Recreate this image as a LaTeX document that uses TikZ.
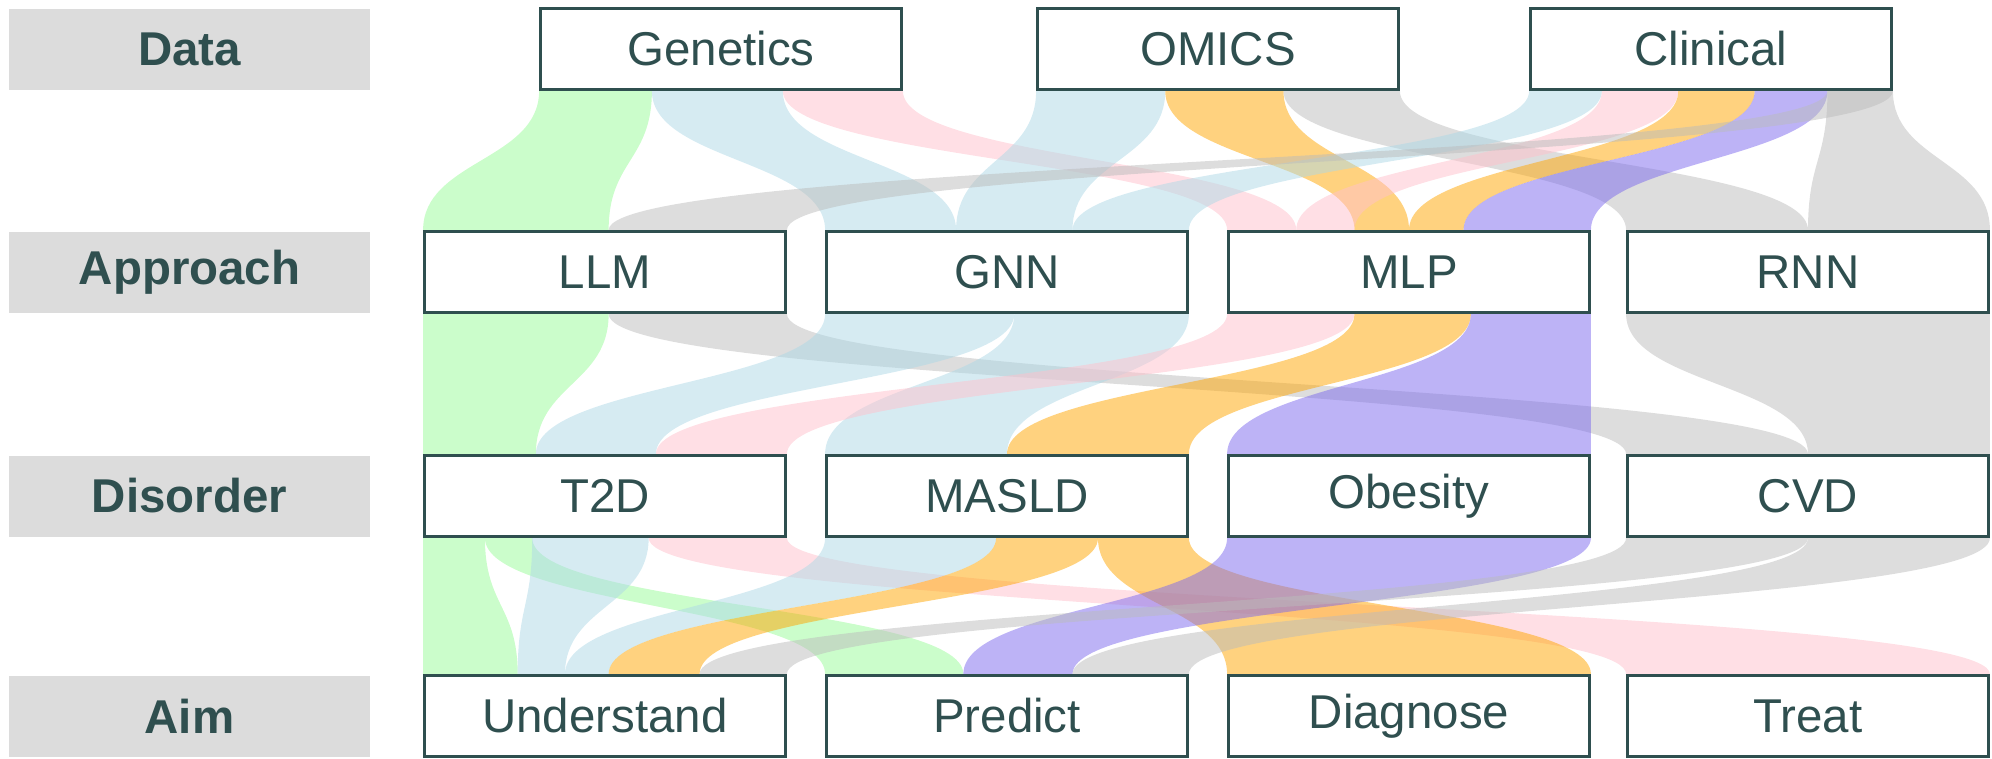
\documentclass[tikz,border=0pt]{standalone}
\usepackage{fontspec}
\setmainfont{Liberation Sans}
\usetikzlibrary{calc,backgrounds}

\definecolor{bordc}{HTML}{2F4F4F}
\definecolor{barc}{HTML}{DCDCDC}
\definecolor{rgreen}{HTML}{98FB98}
\definecolor{rblue}{HTML}{ADD8E6}
\definecolor{rpink}{HTML}{FFC0CB}
\definecolor{rorange}{HTML}{FFA500}
\definecolor{rpurple}{HTML}{7B68EE}
\definecolor{rgray}{HTML}{BBBBBB}

\tikzset{
	box/.style={draw=bordc, line width=0.8pt, fill=white, minimum width=3.61cm, minimum height=0.81cm, inner sep=0pt, text=bordc, font=\fontsize{13.5}{16}\selectfont},
	bar/.style={fill=barc, minimum width=3.61cm, minimum height=0.81cm, inner sep=0pt, text=bordc, font=\fontsize{13.5}{16}\selectfont\bfseries}
}

\newcommand{\ribbon}[7]{
	\path[fill=#1, fill opacity=0.5] let
		\p1 = ($(#2.south west)!#3!(#2.south east)$),
		\p2 = ($(#2.south west)!#4!(#2.south east)$),
		\p3 = ($(#5.north west)!#6!(#5.north east)$),
		\p4 = ($(#5.north west)!#7!(#5.north east)$),
		\p5 = ($(\p1)!0.5!(\p3)$)
	in (\p1) .. controls (\x1,\y5) and (\x3,\y5) .. (\p3) -- (\p4) .. controls (\x4,\y5) and (\x2,\y5) .. (\p2) -- cycle;
}

\begin{document}
\begin{tikzpicture}
\useasboundingbox (0,0) rectangle (19.92,7.58);

\pgfmathsetmacro{\rowA}{7.09}
\pgfmathsetmacro{\rowB}{4.86}
\pgfmathsetmacro{\rowC}{2.62}
\pgfmathsetmacro{\rowD}{0.42}
\pgfmathsetmacro{\colA}{6.05}
\pgfmathsetmacro{\colB}{10.07}
\pgfmathsetmacro{\colC}{14.09}
\pgfmathsetmacro{\colD}{18.08}

\node[bar] (hdata) at (1.895,\rowA) {Data};
\node[bar] (happr) at (1.895,\rowB) {Approach};
\node[bar] (hdis) at (1.895,\rowC) {Disorder};
\node[bar] (haim) at (1.895,\rowD) {Aim};

\node[box] (gen) at (7.21,\rowA) {Genetics};
\node[box] (omics) at (12.18,\rowA) {OMICS};
\node[box] (clin) at (17.11,\rowA) {Clinical};

\node[box] (llm) at (\colA,\rowB) {LLM};
\node[box] (gnn) at (\colB,\rowB) {GNN};
\node[box] (mlp) at (\colC,\rowB) {MLP};
\node[box] (rnn) at (\colD,\rowB) {RNN};

\node[box] (tdd) at (\colA,\rowC) {T2D};
\node[box] (masld) at (\colB,\rowC) {MASLD};
\node[box] (obes) at (\colC,\rowC) {Obesity};
\node[box] (cvd) at (\colD,\rowC) {CVD};

\node[box] (und) at (\colA,\rowD) {Understand};
\node[box] (pred) at (\colB,\rowD) {Predict};
\node[box] (diag) at (\colC,\rowD) {Diagnose};
\node[box] (treat) at (\colD,\rowD) {Treat};

\begin{pgfonlayer}{background}
% data -> approach
\ribbon{rgreen}{gen}{0}{0.31}{llm}{0}{0.51}
\ribbon{rblue}{gen}{0.31}{0.67}{gnn}{0}{0.36}
\ribbon{rpink}{gen}{0.67}{1}{mlp}{0}{0.19}
\ribbon{rblue}{omics}{0}{0.355}{gnn}{0.36}{0.68}
\ribbon{rorange}{omics}{0.355}{0.68}{mlp}{0.35}{0.5}
\ribbon{rgray}{omics}{0.68}{1}{rnn}{0}{0.5}
\ribbon{rblue}{clin}{0}{0.2}{gnn}{0.68}{1}
\ribbon{rpink}{clin}{0.2}{0.41}{mlp}{0.19}{0.35}
\ribbon{rorange}{clin}{0.41}{0.62}{mlp}{0.5}{0.65}
\ribbon{rpurple}{clin}{0.62}{0.82}{mlp}{0.65}{1}
\ribbon{rgray}{clin}{0.82}{1}{rnn}{0.5}{1}
\ribbon{rgray}{clin}{0.82}{1}{llm}{0.51}{1}

% approach -> disorder
\ribbon{rgreen}{llm}{0}{0.51}{tdd}{0}{0.31}
\ribbon{rgray}{llm}{0.51}{1}{cvd}{0}{0.5}
\ribbon{rblue}{gnn}{0}{0.52}{tdd}{0.31}{0.64}
\ribbon{rblue}{gnn}{0.52}{1}{masld}{0}{0.5}
\ribbon{rpink}{mlp}{0}{0.35}{tdd}{0.64}{1}
\ribbon{rorange}{mlp}{0.35}{0.67}{masld}{0.5}{1}
\ribbon{rpurple}{mlp}{0.67}{1}{obes}{0}{1}
\ribbon{rgray}{rnn}{0}{1}{cvd}{0.5}{1}

% disorder -> aim
\ribbon{rgreen}{tdd}{0}{0.17}{und}{0}{0.26}
\ribbon{rgreen}{tdd}{0.17}{0.30}{pred}{0}{0.38}
\ribbon{rblue}{tdd}{0.30}{0.62}{und}{0.26}{0.39}
\ribbon{rpink}{tdd}{0.62}{1}{treat}{0}{1}
\ribbon{rblue}{masld}{0}{0.47}{und}{0.39}{0.51}
\ribbon{rorange}{masld}{0.47}{0.75}{und}{0.51}{0.76}
\ribbon{rorange}{masld}{0.75}{1}{diag}{0}{1}
\ribbon{rpurple}{obes}{0}{1}{pred}{0.38}{0.68}
\ribbon{rgray}{cvd}{0}{0.5}{und}{0.76}{1}
\ribbon{rgray}{cvd}{0.5}{1}{pred}{0.68}{1}
\end{pgfonlayer}
\end{tikzpicture}
\end{document}
